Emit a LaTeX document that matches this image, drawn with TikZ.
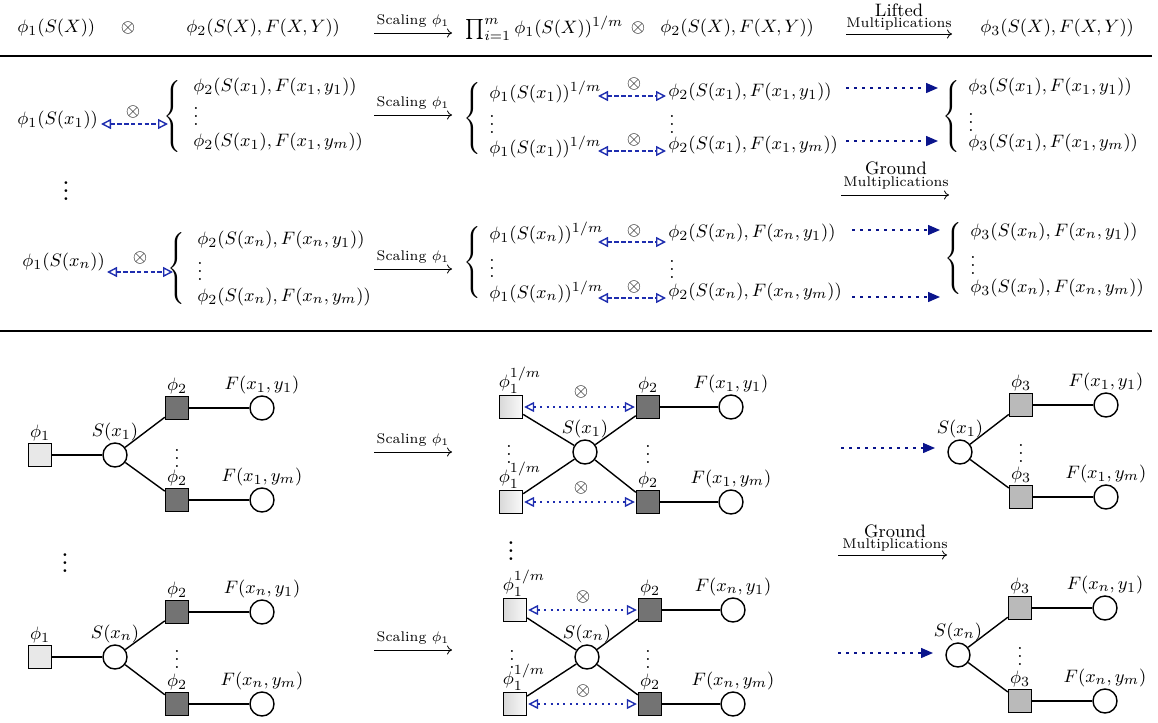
\documentclass[tikz,border=0pt]{standalone}
\usetikzlibrary{arrows.meta}
\definecolor{dblue}{RGB}{30,45,175}
\definecolor{nblue}{RGB}{10,20,140}
\newcommand{\mybrace}[1]{$\left\{\vcenter{\hbox{\rule{0pt}{#1}}}\right.$}
\begin{document}
\fontsize{9.5}{11.4}\selectfont
\begin{tikzpicture}[x=0.5pt,y=-0.5pt,
  txt/.style={anchor=west,inner sep=0pt},
  ctr/.style={inner sep=0pt},
  sep/.style={line width=0.8pt},
  scal/.style={line width=0.4pt,-{To[length=2.5pt,width=4.5pt]}},
  lbl/.style={inner sep=0pt,font=\scriptsize},
  dsh/.style={dblue,line width=0.7pt,dash pattern=on 2.2pt off 1.2pt,{Triangle[open,length=5pt,width=5pt]}-{Triangle[open,length=5pt,width=5pt]}},
  dtt/.style={dblue,line width=0.7pt,dash pattern=on 1pt off 2.2pt,{Triangle[open,length=5pt,width=5pt]}-{Triangle[open,length=5pt,width=5pt]}},
  fdt/.style={nblue,line width=0.7pt,dash pattern=on 1.5pt off 2.5pt,-{Triangle[length=6pt,width=5pt]}},
  edg/.style={line width=0.7pt},
  sq/.style={draw,line width=0.7pt,minimum size=11.5pt,inner sep=0pt},
  sqa/.style={sq,fill=black!9},
  sqb/.style={sq,left color=black!15,right color=black!2},
  sqc/.style={sq,fill=black!55},
  sqd/.style={sq,fill=black!27},
  cir/.style={draw,circle,line width=0.7pt,minimum size=12pt,inner sep=0pt,fill=white},
  la/.style={label={[inner sep=0.5pt]above:#1}},
  lb/.style={label={[inner sep=0.5pt,xshift=4.5pt]above:#1}},
  bigv/.style={inner sep=0pt,font=\Large}
]
\useasboundingbox (0,0) rectangle (1158,723);

% ---------- top row ----------
\node[txt] (t1) at (17,28) {$\phi_1(S(X))$};
\node[ctr] (t2) at (128,28) {$\otimes$};
\node[txt] (t3) at (186,28) {$\phi_2(S(X),F(X,Y))$};
\coordinate (s0a) at (374,33); \coordinate (s0b) at (452,33);
\draw[scal] (s0a) -- (s0b) node[lbl,midway,above=2.5pt] (s0l) {Scaling $\phi_1$};
\node[txt] (t4) at (465,28) {$\prod_{i=1}^{m}\phi_1(S(X))^{1/m}$};
\node[ctr] (t5) at (638,28) {$\otimes$};
\node[txt] (t6) at (660,28) {$\phi_2(S(X),F(X,Y))$};
\coordinate (l0a) at (846,34); \coordinate (l0b) at (952,34);
\draw[scal] (l0a) -- (l0b);
\node[ctr] (l0l1) at (899,10) {\small Lifted};
\node[ctr] (l0l2) at (899,24) {\scriptsize Multiplications};
\node[txt] (t7) at (980,28) {$\phi_3(S(X),F(X,Y))$};
\draw[sep] (0,56) -- (1152,56);

% ---------- middle section, row 1 ----------
\node[txt] (a1) at (17,120) {$\phi_1(S(x_1))$};
\node[ctr] (a1o) at (133,112) {$\otimes$};
\coordinate (a1l) at (101,124); \coordinate (a1r) at (168,124);
\draw[dsh] (a1l) -- (a1r);
\node[ctr] (b1) at (174,116) {\mybrace{36pt}};
\node[txt] (a2) at (193,87) {$\phi_2(S(x_1),F(x_1,y_1))$};
\node[txt] (a3) at (193,110) {$\vdots$};
\node[txt] (a4) at (193,142) {$\phi_2(S(x_1),F(x_1,y_m))$};
\coordinate (s1a) at (374,115); \coordinate (s1b) at (452,115);
\draw[scal] (s1a) -- (s1b) node[lbl,midway,above=2.5pt] (s1l) {Scaling $\phi_1$};
\node[ctr] (b2) at (474,118) {\mybrace{36pt}};
\node[txt] (a5) at (489,92) {$\phi_1(S(x_1))^{1/m}$};
\node[txt] (a6) at (489,118) {$\vdots$};
\node[txt] (a7) at (489,147) {$\phi_1(S(x_1))^{1/m}$};
\coordinate (d1a) at (598,96); \coordinate (d1b) at (666,96);
\draw[dsh] (d1a) -- (d1b);
\node[ctr] (d1o) at (634,84) {$\otimes$};
\coordinate (d2a) at (598,151); \coordinate (d2b) at (666,151);
\draw[dsh] (d2a) -- (d2b);
\node[ctr] (d2o) at (634,140) {$\otimes$};
\node[txt] (a8) at (668,92) {$\phi_2(S(x_1),F(x_1,y_1))$};
\node[txt] (a9) at (669,118) {$\vdots$};
\node[txt] (a10) at (668,145) {$\phi_2(S(x_1),F(x_1,y_m))$};
\coordinate (f1a) at (846,88); \coordinate (f1b) at (938,88);
\draw[fdt] (f1a) -- (f1b);
\coordinate (f2a) at (846,141); \coordinate (f2b) at (938,141);
\draw[fdt] (f2a) -- (f2b);
\node[ctr] (b3) at (953,116) {\mybrace{36pt}};
\node[txt] (a11) at (968,87) {$\phi_3(S(x_1),F(x_1,y_1))$};
\node[txt] (a12) at (968,116) {$\vdots$};
\node[txt] (a13) at (968,143) {$\phi_3(S(x_1),F(x_1,y_m))$};
\node[ctr] (g1) at (896,168) {\small Ground};
\node[ctr] (g2) at (896,183) {\scriptsize Multiplications};
\coordinate (g1a) at (841,195); \coordinate (g1b) at (949,195);
\draw[scal] (g1a) -- (g1b);
\node[bigv] (v1) at (66,185) {$\vdots$};

% ---------- middle section, row n ----------
\node[txt] (c1) at (22,262) {$\phi_1(S(x_n))$};
\node[ctr] (c1o) at (140,258) {$\otimes$};
\coordinate (c1l) at (107,272); \coordinate (c1r) at (173,272);
\draw[dsh] (c1l) -- (c1r);
\node[ctr] (b4) at (178,268) {\mybrace{36pt}};
\node[txt] (c2) at (197,240) {$\phi_2(S(x_n),F(x_n,y_1))$};
\node[txt] (c3) at (197,265) {$\vdots$};
\node[txt] (c4) at (197,297) {$\phi_2(S(x_n),F(x_n,y_m))$};
\coordinate (s2a) at (374,269); \coordinate (s2b) at (452,269);
\draw[scal] (s2a) -- (s2b) node[lbl,midway,above=2.5pt] (s2l) {Scaling $\phi_1$};
\node[ctr] (b5) at (474,262) {\mybrace{38pt}};
\node[txt] (c5) at (489,233) {$\phi_1(S(x_n))^{1/m}$};
\node[txt] (c6) at (489,262) {$\vdots$};
\node[txt] (c7) at (489,292) {$\phi_1(S(x_n))^{1/m}$};
\coordinate (d3a) at (598,242); \coordinate (d3b) at (666,242);
\draw[dsh] (d3a) -- (d3b);
\node[ctr] (d3o) at (634,231) {$\otimes$};
\coordinate (d4a) at (598,298); \coordinate (d4b) at (666,298);
\draw[dsh] (d4a) -- (d4b);
\node[ctr] (d4o) at (634,287) {$\otimes$};
\node[txt] (c8) at (668,233) {$\phi_2(S(x_n),F(x_n,y_1))$};
\node[txt] (c9) at (669,263) {$\vdots$};
\node[txt] (c10) at (668,292) {$\phi_2(S(x_n),F(x_n,y_m))$};
\coordinate (f3a) at (852,230); \coordinate (f3b) at (940,230);
\draw[fdt] (f3a) -- (f3b);
\coordinate (f4a) at (852,297); \coordinate (f4b) at (940,297);
\draw[fdt] (f4a) -- (f4b);
\node[ctr] (b6) at (955,258) {\mybrace{36pt}};
\node[txt] (c11) at (970,232) {$\phi_3(S(x_n),F(x_n,y_1))$};
\node[txt] (c12) at (970,259) {$\vdots$};
\node[txt] (c13) at (970,288) {$\phi_3(S(x_n),F(x_n,y_m))$};
\draw[sep] (0,331) -- (1152,331);

% ---------- bottom section: tree x1 ----------
\node[sqa,la={$\phi_1$}] (P1) at (40,455) {};
\node[cir,la={$S(x_1)$}] (S1) at (115,455) {};
\node[sqc,la={$\phi_2$}] (Q1) at (177,408) {};
\node[sqc,la={$\phi_2$}] (Q2) at (177,500) {};
\node[cir,la={$F(x_1,y_1)$}] (F1) at (262,408) {};
\node[cir,la={$F(x_1,y_m)$}] (F2) at (262,500) {};
\node[ctr] (V1) at (177,452) {$\vdots$};
\draw[edg] (P1) -- (S1);
\draw[edg] (S1) -- (Q1);
\draw[edg] (S1) -- (Q2);
\draw[edg] (Q1) -- (F1);
\draw[edg] (Q2) -- (F2);
\coordinate (s3a) at (374,452); \coordinate (s3b) at (452,452);
\draw[scal] (s3a) -- (s3b) node[lbl,midway,above=2.5pt] (s3l) {Scaling $\phi_1$};

\node[sqb,lb={$\phi_1^{1/m}$}] (R1) at (511,407) {};
\node[sqb,lb={$\phi_1^{1/m}$}] (R2) at (511,502) {};
\node[cir,la={$S(x_1)$}] (S2) at (585,452) {};
\node[sqc,la={$\phi_2$}] (Q3) at (648,407) {};
\node[sqc,la={$\phi_2$}] (Q4) at (648,502) {};
\node[cir,la={$F(x_1,y_1)$}] (F3) at (731,407) {};
\node[cir,la={$F(x_1,y_m)$}] (F4) at (731,502) {};
\node[ctr] (V2) at (509,448) {$\vdots$};
\node[ctr] (V3) at (648,448) {$\vdots$};
\draw[edg] (R1) -- (S2);
\draw[edg] (R2) -- (S2);
\draw[edg] (S2) -- (Q3);
\draw[edg] (S2) -- (Q4);
\draw[edg] (Q3) -- (F3);
\draw[edg] (Q4) -- (F4);
\draw[dtt,shorten <=0.5pt,shorten >=0.5pt] (R1) -- (Q3);
\draw[dtt,shorten <=0.5pt,shorten >=0.5pt] (R2) -- (Q4);
\node[ctr] (o1) at (581,392) {$\otimes$};
\node[ctr] (o2) at (581,488) {$\otimes$};

\coordinate (h1a) at (841,448); \coordinate (h1b) at (935,448);
\draw[fdt] (h1a) -- (h1b);
\node[cir,la={$S(x_1)$}] (S3) at (960,452) {};
\node[sqd,la={$\phi_3$}] (T1) at (1021,405) {};
\node[sqd,la={$\phi_3$}] (T2) at (1021,497) {};
\node[cir,la={$F(x_1,y_1)$}] (F5) at (1106,405) {};
\node[cir,la={$F(x_1,y_m)$}] (F6) at (1106,497) {};
\node[ctr] (V4) at (1021,447) {$\vdots$};
\draw[edg] (S3) -- (T1);
\draw[edg] (S3) -- (T2);
\draw[edg] (T1) -- (F5);
\draw[edg] (T2) -- (F6);

\node[ctr] (g3) at (895,531) {\small Ground};
\node[ctr] (g4) at (895,545) {\scriptsize Multiplications};
\coordinate (g3a) at (838,555); \coordinate (g3b) at (947,555);
\draw[scal] (g3a) -- (g3b);

\node[bigv] (v2) at (65,557) {$\vdots$};
\node[bigv] (v3) at (511,545) {$\vdots$};

% ---------- bottom section: tree xn ----------
\node[sqa,la={$\phi_1$}] (P5) at (40,657) {};
\node[cir,la={$S(x_n)$}] (S5) at (115,657) {};
\node[sqc,la={$\phi_2$}] (Q5) at (177,612) {};
\node[sqc,la={$\phi_2$}] (Q6) at (177,704) {};
\node[cir,la={$F(x_n,y_1)$}] (F7) at (262,612) {};
\node[cir,la={$F(x_n,y_m)$}] (F8) at (262,704) {};
\node[ctr] (V5) at (177,653) {$\vdots$};
\draw[edg] (P5) -- (S5);
\draw[edg] (S5) -- (Q5);
\draw[edg] (S5) -- (Q6);
\draw[edg] (Q5) -- (F7);
\draw[edg] (Q6) -- (F8);
\coordinate (s4a) at (374,650); \coordinate (s4b) at (452,650);
\draw[scal] (s4a) -- (s4b) node[lbl,midway,above=2.5pt] (s4l) {Scaling $\phi_1$};

\node[sqb,lb={$\phi_1^{1/m}$}] (R5) at (515,610) {};
\node[sqb,lb={$\phi_1^{1/m}$}] (R6) at (515,704) {};
\node[cir,la={$S(x_n)$}] (S6) at (587,657) {};
\node[sqc,la={$\phi_2$}] (Q7) at (650,610) {};
\node[sqc,la={$\phi_2$}] (Q8) at (650,704) {};
\node[cir,la={$F(x_n,y_1)$}] (F9) at (733,610) {};
\node[cir,la={$F(x_n,y_m)$}] (F10) at (733,704) {};
\node[ctr] (V6) at (512,653) {$\vdots$};
\node[ctr] (V7) at (648,653) {$\vdots$};
\draw[edg] (R5) -- (S6);
\draw[edg] (R6) -- (S6);
\draw[edg] (S6) -- (Q7);
\draw[edg] (S6) -- (Q8);
\draw[edg] (Q7) -- (F9);
\draw[edg] (Q8) -- (F10);
\draw[dtt,shorten <=0.5pt,shorten >=0.5pt] (R5) -- (Q7);
\draw[dtt,shorten <=0.5pt,shorten >=0.5pt] (R6) -- (Q8);
\node[ctr] (o3) at (583,597) {$\otimes$};
\node[ctr] (o4) at (583,691) {$\otimes$};

\coordinate (h2a) at (838,653); \coordinate (h2b) at (933,653);
\draw[fdt] (h2a) -- (h2b);
\node[cir,la={$S(x_n)$}] (S7) at (958,655) {};
\node[sqd,la={$\phi_3$}] (T5) at (1020,608) {};
\node[sqd,la={$\phi_3$}] (T6) at (1020,701) {};
\node[cir,la={$F(x_n,y_1)$}] (F11) at (1105,608) {};
\node[cir,la={$F(x_n,y_m)$}] (F12) at (1105,701) {};
\node[ctr] (V8) at (1020,650) {$\vdots$};
\draw[edg] (S7) -- (T5);
\draw[edg] (S7) -- (T6);
\draw[edg] (T5) -- (F11);
\draw[edg] (T6) -- (F12);
\end{tikzpicture}
\end{document}
